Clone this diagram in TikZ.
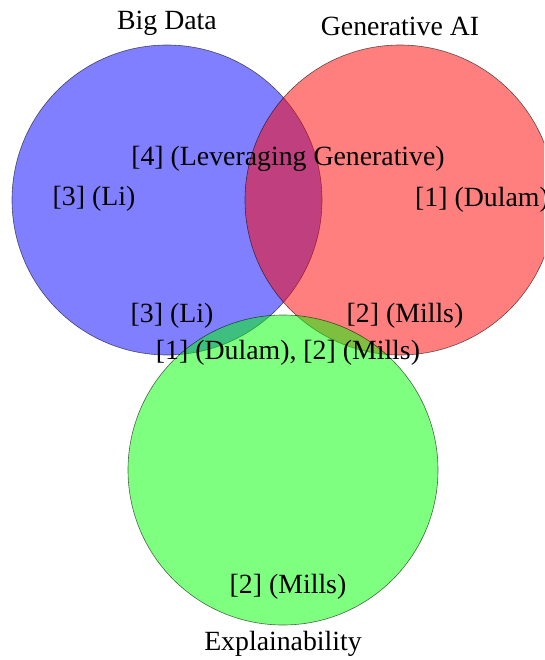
\documentclass[tikz,border=0pt]{standalone}
\usepackage{fontspec}
\setmainfont{Liberation Serif}
\begin{document}
\begin{tikzpicture}[x=1pt,y=-1pt,
  set/.style={draw=black,draw opacity=0.6,line width=0.6pt,fill opacity=0.5},
  lbl/.style={font=\fontsize{27.8}{33}\selectfont,inner sep=0pt,anchor=base}]
\useasboundingbox (0,0) rectangle (544,660);
\begin{scope}
\clip (0,0) rectangle (544,660);
% the three sets
\path[set,fill=blue] (167,200) circle[radius=155];
\path[set,fill=red] (400,200) circle[radius=155];
\path[set,fill=green] (283,470) circle[radius=155];
% set titles
\node[lbl,anchor=south] (tbig) at (167,36) {Big Data};
\node[lbl,anchor=south] (tgen) at (400,36) {Generative AI};
\node[lbl,anchor=north] (texp) at (283,631) {Explainability};
% region entries
\node[lbl] (bg) at (288,166) {[4] (Leveraging Generative)};
\node[lbl] (b) at (94,206) {[3] (Li)};
\node[lbl] (g) at (482,207) {[1] (Dulam)};
\node[lbl] (be) at (172,322) {[3] (Li)};
\node[lbl] (ge) at (405,322) {[2] (Mills)};
\node[lbl] (bge) at (288,359) {[1] (Dulam), [2] (Mills)};
\node[lbl] (e) at (288,593) {[2] (Mills)};
\end{scope}
\end{tikzpicture}
\end{document}
